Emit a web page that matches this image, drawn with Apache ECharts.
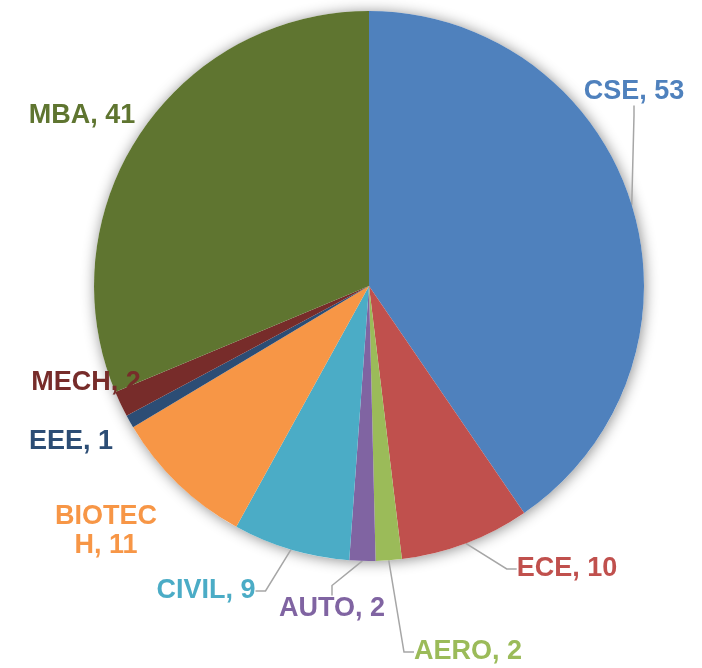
<!DOCTYPE html>
<html>
<head>
<meta charset="utf-8">
<script src="https://cdn.jsdelivr.net/npm/echarts@6/dist/echarts.min.js"></script>
<style>
  html, body { margin: 0; padding: 0; background: #ffffff; }
  #chart { width: 702px; height: 668px; }
</style>
</head>
<body>
<div id="chart"></div>
<script>
// Enrolment by department
const departments = ['CSE', 'ECE', 'AERO', 'AUTO', 'CIVIL', 'BIOTECH', 'EEE', 'MECH', 'MBA'];
const students = [53, 10, 2, 2, 9, 11, 1, 2, 41];
const sliceColors = ['#4F81BD', '#C0504D', '#9BBB59', '#8064A2', '#4BACC6', '#F79646', '#2C4D75', '#772C2A', '#5F7530'];
const withLeader = [true, true, true, true, true, false, false, false, false];

// Where each label sits (text centre, px)
const labelSpots = [
  [634, 92], [567, 569], [468, 652], [332, 609], [206, 591],
  [106, 531], [71, 442], [86, 383], [82, 116]
];

const center = [369, 286];
const radius = 275;

const chart = echarts.init(document.getElementById('chart'), null, { renderer: 'canvas' });

const pieData = departments.map((name, i) => ({
  name: name,
  value: students[i],
  itemStyle: { color: sliceColors[i] },
  label: Object.assign(
    { color: sliceColors[i], width: 200 },
    name === 'BIOTECH' ? { width: 110, overflow: 'breakAll', lineHeight: 29 } : {}
  ),
  labelLine: { show: withLeader[i] }
}));

chart.setOption({
  animation: false,
  backgroundColor: '#ffffff',
  series: [
    {
      // soft drop shadow under the disc
      type: 'pie',
      silent: true,
      center: center,
      radius: radius,
      z: 1,
      label: { show: false },
      labelLine: { show: false },
      itemStyle: {
        color: '#ffffff',
        shadowBlur: 14,
        shadowColor: 'rgba(0,0,0,0.45)',
        shadowOffsetX: 1,
        shadowOffsetY: 1
      },
      data: [{ value: 1 }]
    },
    {
      type: 'pie',
      center: center,
      radius: radius,
      startAngle: 90,
      clockwise: true,
      z: 2,
      emphasis: { disabled: true },
      itemStyle: { borderWidth: 0 },
      label: {
        show: true,
        position: 'outside',
        formatter: '{b}, {c}',
        fontFamily: 'Liberation Sans, Arial, sans-serif',
        fontWeight: 'bold',
        fontSize: 27,
        align: 'center',
        overflow: 'none'
      },
      labelLine: {
        show: true,
        length: 10,
        length2: 10,
        lineStyle: { color: '#A6A6A6', width: 1.5 }
      },
      labelLayout: function (params) {
        const p = labelSpots[params.dataIndex];
        return { x: p[0], y: p[1], align: 'center', verticalAlign: 'middle' };
      },
      data: pieData
    }
  ]
});
</script>
</body>
</html>
